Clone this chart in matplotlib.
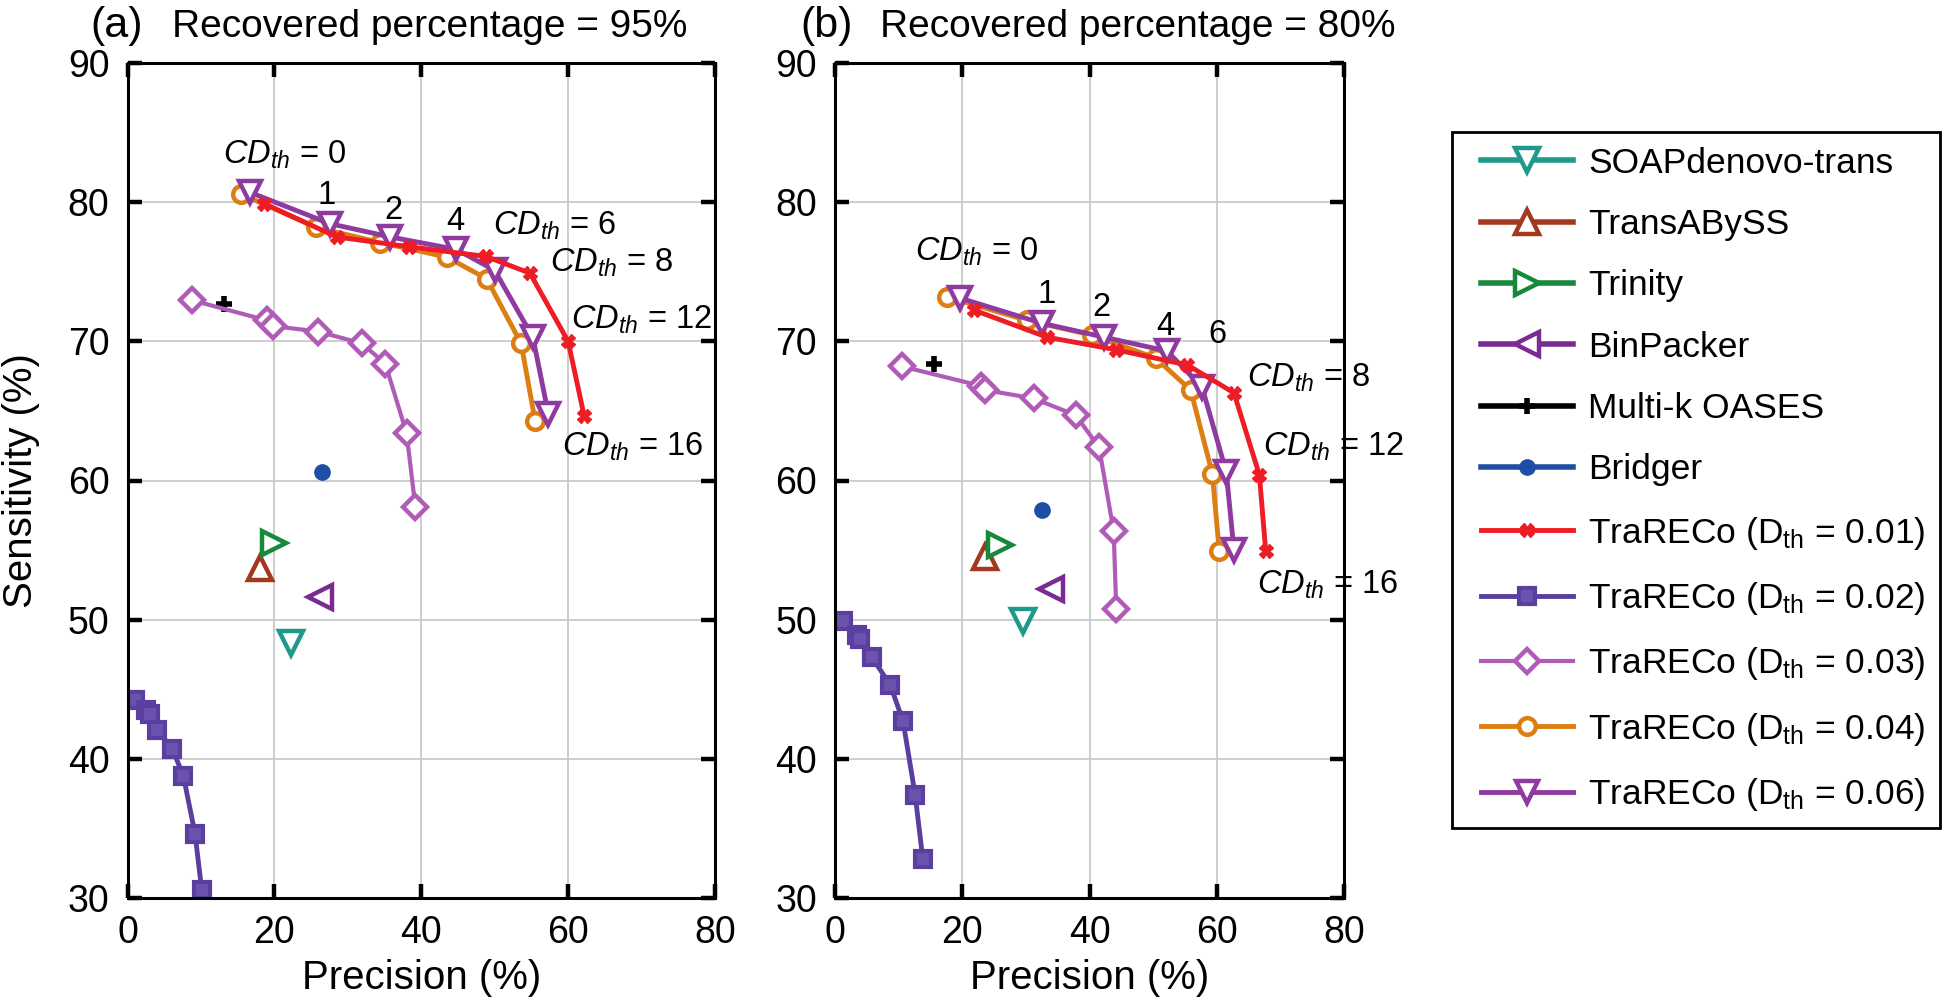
import matplotlib
matplotlib.use("Agg")
import matplotlib.pyplot as plt
from matplotlib.patches import Rectangle

plt.rcParams['font.family'] = ['Liberation Sans', 'DejaVu Sans']
plt.rcParams['mathtext.fontset'] = 'custom'
plt.rcParams['mathtext.rm'] = 'Liberation Sans'
plt.rcParams['mathtext.it'] = 'Liberation Sans:italic'
plt.rcParams['mathtext.bf'] = 'Liberation Sans:bold'

# ---------------- data ----------------
series_names = ['SOAPdenovo-trans', 'TransABySS', 'Trinity', 'BinPacker', 'Multi-k OASES', 'Bridger',
                'TraRECo (D$_{\\mathrm{th}}$ = 0.01)', 'TraRECo (D$_{\\mathrm{th}}$ = 0.02)',
                'TraRECo (D$_{\\mathrm{th}}$ = 0.03)', 'TraRECo (D$_{\\mathrm{th}}$ = 0.04)',
                'TraRECo (D$_{\\mathrm{th}}$ = 0.06)']

# panel (a): recovered percentage = 95%
soap_a = ([22.2], [48.3])
transabyss_a = ([18.0], [53.7])
trinity_a = ([19.9], [55.5])
binpacker_a = ([26.2], [51.6])
multik_a = ([13.1], [72.7])
bridger_a = ([26.5], [60.6])
t01_a_x = [18.6, 28.5, 38.3, 48.8, 54.8, 60.0, 62.2]
t01_a_y = [79.9, 77.5, 76.8, 76.1, 74.9, 70.0, 64.6]
t02_a_x = [1.0, 2.5, 3.1, 4.05, 6.1, 7.6, 9.2, 10.1]
t02_a_y = [44.2, 43.5, 43.2, 42.1, 40.7, 38.8, 34.6, 30.6]
t03_a_x = [8.8, 19.0, 19.8, 26.0, 31.9, 35.1, 38.0, 39.2]
t03_a_y = [72.95, 71.5, 71.1, 70.7, 69.85, 68.4, 63.4, 58.1]
t04_a_x = [15.4, 25.6, 34.4, 43.5, 48.9, 53.6, 55.5]
t04_a_y = [80.6, 78.2, 77.1, 76.05, 74.5, 69.85, 64.3]
t06_a_x = [16.7, 27.6, 35.8, 44.8, 50.0, 55.2, 57.3]
t06_a_y = [80.7, 78.45, 77.5, 76.6, 75.1, 70.3, 64.8]

# panel (b): recovered percentage = 80%
soap_b = ([29.5], [49.9])
transabyss_b = ([23.5], [54.5])
trinity_b = ([26.0], [55.4])
binpacker_b = ([33.9], [52.2])
multik_b = ([15.5], [68.4])
bridger_b = ([32.5], [57.9])
t01_b_x = [21.8, 33.3, 44.1, 55.4, 62.7, 66.7, 67.7]
t01_b_y = [72.25, 70.3, 69.4, 68.3, 66.3, 60.4, 54.9]
t02_b_x = [1.3, 3.4, 3.9, 5.8, 8.7, 10.7, 12.6, 13.8]
t02_b_y = [49.9, 48.9, 48.6, 47.3, 45.3, 42.7, 37.4, 32.8]
t03_b_x = [10.5, 22.9, 23.6, 31.2, 37.8, 41.5, 43.8, 44.2]
t03_b_y = [68.2, 66.8, 66.5, 65.9, 64.7, 62.4, 56.35, 50.8]
t04_b_x = [17.6, 30.2, 40.4, 50.4, 55.9, 59.3, 60.4]
t04_b_y = [73.2, 71.5, 70.45, 68.8, 66.5, 60.5, 54.9]
t06_b_x = [19.7, 32.5, 42.3, 52.2, 57.7, 61.5, 62.7]
t06_b_y = [73.1, 71.3, 70.3, 69.3, 66.7, 60.6, 55.0]

x_ticks = [0, 20, 40, 60, 80]
y_ticks = [30, 40, 50, 60, 70, 80, 90]

# CD_th annotations: (label, x, y, is_full)
ann_a = [('0', 13.0, 82.8, True), ('1', 27.1, 80.5, False), ('2', 36.2, 79.4, False),
         ('4', 44.6, 78.6, False), ('6', 49.8, 77.7, True), ('8', 57.6, 75.0, True),
         ('12', 60.4, 70.9, True), ('16', 59.2, 61.8, True)]
ann_b = [('0', 12.6, 75.8, True), ('1', 33.3, 73.4, False), ('2', 41.9, 72.4, False),
         ('4', 51.9, 71.05, False), ('6', 60.1, 70.5, False), ('8', 64.7, 66.75, True),
         ('12', 67.3, 61.8, True), ('16', 66.3, 51.9, True)]

# ---------------- styles ----------------
C_SOAP = '#1f9a8a'
C_TAB = '#a3381f'
C_TRI = '#16893a'
C_BIN = '#7a2b92'
C_MK = '#000000'
C_BRI = '#1f4ea6'
C_01 = '#ee1d25'
C_02 = '#5a3fa0'
C_03 = '#b05cb6'
C_04 = '#dd7e12'
C_06 = '#8e3a9f'

W, H = 1946, 1007
fig = plt.figure(figsize=(W / 100, H / 100), dpi=100)
ax_a = fig.add_axes([127.5 / W, 1 - 898 / H, 587.5 / W, 835 / H])
ax_b = fig.add_axes([835 / W, 1 - 898 / H, 509 / W, 835 / H])


def draw(ax, d):
    h = []
    h += ax.plot(*d['soap'], '-v', color=C_SOAP, ms=17, mew=3.2, mfc='white', lw=4, label=series_names[0])
    h += ax.plot(*d['tab'], '-^', color=C_TAB, ms=17, mew=3.2, mfc='white', lw=4, label=series_names[1])
    h += ax.plot(*d['tri'], '->', color=C_TRI, ms=17, mew=3.2, mfc='white', lw=4, label=series_names[2])
    h += ax.plot(*d['bin'], '-<', color=C_BIN, ms=17, mew=3.2, mfc='white', lw=4, label=series_names[3])
    h += ax.plot(*d['mk'], '-+', color=C_MK, ms=12, mew=4, lw=4, label=series_names[4])
    h += ax.plot(*d['bri'], '-o', color=C_BRI, ms=11, mew=1, lw=4, label=series_names[5])
    l01 = ax.plot(d['t01'][0], d['t01'][1], '-X', color=C_01, ms=10, mew=1, lw=3.5, zorder=6,
                  label=series_names[6])
    l02 = ax.plot(d['t02'][0], d['t02'][1], '-s', color=C_02, ms=12, mew=3, mfc='#6a52ad', lw=3.5,
                  label=series_names[7])
    l03 = ax.plot(d['t03'][0], d['t03'][1], '-D', color=C_03, ms=12, mew=3.2, mfc='white', lw=3,
                  label=series_names[8])
    l04 = ax.plot(d['t04'][0], d['t04'][1], '-o', color=C_04, ms=12, mew=3.2, mfc='white', lw=3.5,
                  zorder=4, label=series_names[9])
    l06 = ax.plot(d['t06'][0], d['t06'][1], '-v', color=C_06, ms=16, mew=3.2, mfc='white', lw=3.5,
                  zorder=5, label=series_names[10])
    h += l01 + l02 + l03 + l04 + l06
    ax.set_xlim(0, 80)
    ax.set_ylim(30, 90)
    ax.set_xticks(x_ticks)
    ax.set_yticks(y_ticks)
    ax.grid(True, color='#c9c9c9', lw=1.3)
    ax.set_axisbelow(True)
    ax.tick_params(direction='in', length=10, width=3.2, labelsize=27, top=True, right=True)
    ax.tick_params(axis='y', pad=13)
    ax.tick_params(axis='x', pad=12)
    for s in ax.spines.values():
        s.set_linewidth(2.2)
    ax.set_xlabel('Precision (%)', fontsize=29, labelpad=6)
    for lab, x, y, full in d['ann']:
        if full:
            ax.text(x, y, r'$\mathit{CD}_{\mathit{th}}$ = ' + lab, fontsize=23.5, ha='left', va='baseline')
        else:
            ax.text(x, y, lab, fontsize=23.5, ha='center', va='center')
    return h


da = dict(soap=soap_a, tab=transabyss_a, tri=trinity_a, bin=binpacker_a, mk=multik_a, bri=bridger_a,
          t01=(t01_a_x, t01_a_y), t02=(t02_a_x, t02_a_y), t03=(t03_a_x, t03_a_y),
          t04=(t04_a_x, t04_a_y), t06=(t06_a_x, t06_a_y), ann=ann_a)
db = dict(soap=soap_b, tab=transabyss_b, tri=trinity_b, bin=binpacker_b, mk=multik_b, bri=bridger_b,
          t01=(t01_b_x, t01_b_y), t02=(t02_b_x, t02_b_y), t03=(t03_b_x, t03_b_y),
          t04=(t04_b_x, t04_b_y), t06=(t06_b_x, t06_b_y), ann=ann_b)

handles = draw(ax_a, da)
draw(ax_b, db)
ax_a.set_ylabel('Sensitivity (%)', fontsize=29, labelpad=20)

# titles
ty = 1 - 37 / H
fig.text(90 / W, ty, '(a)', fontsize=31, ha='left', va='baseline')
fig.text(172 / W, ty, 'Recovered percentage = 95%', fontsize=28, ha='left', va='baseline')
fig.text(800 / W, ty, '(b)', fontsize=31, ha='left', va='baseline')
fig.text(880 / W, ty, 'Recovered percentage = 80%', fontsize=28, ha='left', va='baseline')

# legend (entries without frame) + separate square frame
leg = fig.legend(handles=handles, labels=series_names, loc='center left',
                 bbox_to_anchor=(1481 / W, 1 - 480 / H), fontsize=25.5, frameon=False,
                 handlelength=2.6, handletextpad=0.42,
                 labelspacing=0.80, borderpad=0.0, borderaxespad=0)
fig.patches.append(Rectangle((1452 / W, 1 - 828 / H), (1940 - 1452) / W, (828 - 132) / H,
                             transform=fig.transFigure, fill=False, edgecolor='black', lw=2,
                             zorder=10))

fig.savefig('out.png', dpi=100)
